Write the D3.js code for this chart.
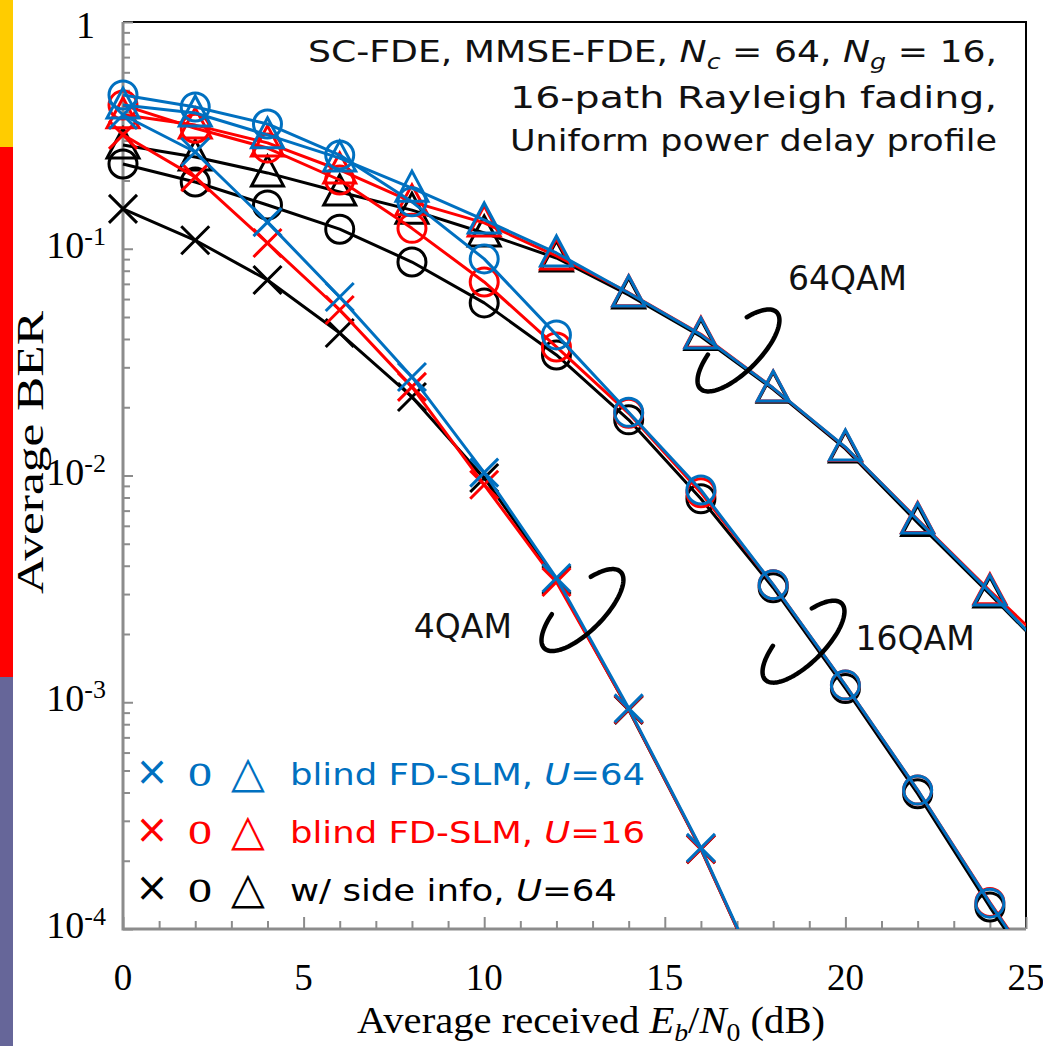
<!DOCTYPE html>
<html>
<head>
<meta charset="utf-8">
<script src="https://cdn.jsdelivr.net/npm/d3@7"></script>
<style>
  html, body { margin: 0; padding: 0; background: #fff; }
  svg { display: block; }
</style>
</head>
<body>
<svg id="chart" width="1043" height="1046"></svg>
<script>
// Average received Eb/N0 (dB) at which BER was evaluated
const ebn0 = [0, 2, 4, 6, 8, 10, 12, 14, 16, 18, 20, 22, 24, 26];

// 4QAM (x markers)
const qam4Blind64 = [0.389, 0.267, 0.131, 0.0613, 0.0272, 0.0103, 0.00353, 0.00094, 0.000228, 0.0000455];
const qam4Blind16 = [0.318, 0.207, 0.106, 0.0537, 0.0246, 0.0091, 0.00339, 0.00093, 0.000225, 0.000045];
const qam4Side64  = [0.150, 0.109, 0.0728, 0.0425, 0.0222, 0.00975, 0.00346, 0.000925, 0.000225, 0.000045];

// 16QAM (o markers)
const qam16Blind64 = [0.477, 0.422, 0.355, 0.259, 0.161, 0.0902, 0.0417, 0.0190, 0.00863, 0.0033, 0.00119, 0.00041, 0.000130, 0.000044];
const qam16Blind16 = [0.43, 0.34, 0.278, 0.201, 0.123, 0.0714, 0.0369, 0.0188, 0.0084, 0.0033, 0.00119, 0.00041, 0.000131, 0.000045];
const qam16Side64  = [0.2365, 0.197, 0.156, 0.122, 0.0874, 0.0577, 0.034, 0.0176, 0.0079, 0.0032, 0.00115, 0.000395, 0.000125, 0.000043];

// 64QAM (triangle markers)
const qam64Blind64 = [0.43, 0.397, 0.318, 0.251, 0.185, 0.134, 0.0958, 0.0638, 0.0417, 0.0243, 0.01335, 0.00636, 0.00306, 0.00142];
const qam64Blind16 = [0.39, 0.351, 0.293, 0.2225, 0.161, 0.130, 0.093, 0.064, 0.042, 0.0243, 0.0133, 0.0064, 0.0031, 0.00155];
const qam64Side64  = [0.287, 0.254, 0.216, 0.178, 0.148, 0.1173, 0.091, 0.0625, 0.041, 0.024, 0.0131, 0.0062, 0.0030, 0.00142];

// Axis ticks
const xMajorTicks = [0, 5, 10, 15, 20, 25];
const yDecades = [1e-4, 1e-3, 1e-2, 1e-1, 1];

// Legend entries
const legendNames = ["blind FD-SLM, ", "blind FD-SLM, ", "w/ side info, "];
const legendU = ["64", "16", "64"];

// Modulation group labels and the loop that ties each curve bundle
const groupLabels = ["4QAM", "16QAM", "64QAM"];
const groupLoopAt = [[12.72, 2.55e-3], [18.84, 1.85e-3], [17.04, 0.0356]];
const groupLabelAt = [[9.41, 0.00192], [21.93, 0.0017], [20.06, 0.0658]];

// ---------------------------------------------------------------
const colors = { u64: "#0070C0", u16: "#FF0000", side: "#000000" };
const serif = "'Liberation Serif', 'Times New Roman', serif";
const sans = "'DejaVu Sans', Verdana, sans-serif";
const axisGray = "#8c8c8c";

const svg = d3.select("#chart");
const frame = { left: 123, top: 22, right: 1026, bottom: 929 };

const x = d3.scaleLinear().domain([0, 25]).range([frame.left, frame.right]);
const y = d3.scaleLog().domain([1e-4, 1]).range([frame.bottom, frame.top]);

// Coloured side strip
const strip = [
  { from: 0, to: 147, color: "#FFCC00" },
  { from: 147, to: 677, color: "#FF0000" },
  { from: 677, to: 1046, color: "#666699" }
];
svg.selectAll("rect.strip").data(strip).join("rect")
  .attr("class", "strip")
  .attr("x", 0).attr("width", 13)
  .attr("y", d => d.from).attr("height", d => d.to - d.from)
  .attr("fill", d => d.color);

// Frame: top and right edges in black
svg.append("path")
  .attr("d", `M${frame.left},${frame.top}H${frame.right}V${frame.bottom}`)
  .attr("fill", "none").attr("stroke", "#000").attr("stroke-width", 2);

// Left axis (log) with inward ticks
const yMinor = y.ticks().filter(v => !yDecades.some(d => Math.abs(v - d) < d * 1e-6));
const yMinorAxis = d3.axisRight(y).tickValues(yMinor).tickSize(7).tickFormat("");
const yMajorAxis = d3.axisRight(y).tickValues(yDecades).tickSize(10).tickFormat("");
[yMinorAxis, yMajorAxis].forEach(ax => {
  const g = svg.append("g").attr("transform", `translate(${frame.left},0)`).call(ax);
  g.select(".domain").remove();
  g.selectAll("line").attr("stroke", axisGray).attr("stroke-width", 2);
});

// Bottom axis with upward ticks
const xMinor = d3.range(1, 25).filter(v => v % 5 !== 0);
const xMinorAxis = d3.axisTop(x).tickValues(xMinor).tickSize(8).tickFormat("");
const xMajorAxis = d3.axisTop(x).tickValues(xMajorTicks).tickSize(12).tickFormat("");
[xMinorAxis, xMajorAxis].forEach(ax => {
  const g = svg.append("g").attr("transform", `translate(0,${frame.bottom})`).call(ax);
  g.select(".domain").remove();
  g.selectAll("line").attr("stroke", axisGray).attr("stroke-width", 2);
});

// Axis lines
svg.append("path")
  .attr("d", `M${frame.left},${frame.top}V${frame.bottom}H${frame.right}`)
  .attr("fill", "none").attr("stroke", axisGray).attr("stroke-width", 3);

// Y tick labels: 1, 10^-1 ... 10^-4
yDecades.forEach(d => {
  const e = Math.round(Math.log10(d));
  if (e === 0) {
    svg.append("text").attr("x", 95).attr("y", y(d) + 16)
      .attr("text-anchor", "end").attr("font-family", serif).attr("font-size", 38)
      .text("1");
  } else {
    const t = svg.append("text").attr("x", 106).attr("y", y(d) + 9)
      .attr("text-anchor", "end").attr("font-family", serif).attr("font-size", 38);
    t.append("tspan").text("10");
    t.append("tspan").attr("font-size", 26).attr("dy", -13).text("-" + Math.abs(e));
  }
});

// X tick labels
svg.selectAll("text.xtick").data(xMajorTicks).join("text")
  .attr("class", "xtick")
  .attr("x", d => x(d)).attr("y", 990)
  .attr("text-anchor", "middle").attr("font-family", serif).attr("font-size", 37)
  .text(d => d);

// Axis titles
const xt = svg.append("text").attr("x", 357).attr("y", 1033)
  .attr("font-family", serif).attr("font-size", 38)
  .attr("textLength", 468).attr("lengthAdjust", "spacingAndGlyphs");
xt.append("tspan").text("Average received ");
xt.append("tspan").attr("font-style", "italic").text("E");
xt.append("tspan").attr("font-style", "italic").attr("font-size", 26).attr("dy", 8).text("b");
xt.append("tspan").attr("dy", -8).text("/");
xt.append("tspan").attr("font-style", "italic").text("N");
xt.append("tspan").attr("font-size", 26).attr("dy", 8).text("0");
xt.append("tspan").attr("dy", -8).text(" (dB)");

svg.append("text")
  .attr("transform", "translate(43,594) rotate(-90)")
  .attr("font-family", serif).attr("font-size", 38)
  .attr("textLength", 283).attr("lengthAdjust", "spacingAndGlyphs")
  .text("Average BER");

// Conditions text (right aligned block)
const cond = svg.append("g").attr("font-family", sans).attr("font-size", 30).attr("fill", "#111");
const c1 = cond.append("text").attr("x", 308).attr("y", 62)
  .attr("textLength", 689).attr("lengthAdjust", "spacingAndGlyphs");
c1.append("tspan").text("SC-FDE, MMSE-FDE, ");
c1.append("tspan").attr("font-style", "italic").text("N");
c1.append("tspan").attr("font-style", "italic").attr("font-size", 21).attr("dy", 7).text("c");
c1.append("tspan").attr("dy", -7).text(" = 64, ");
c1.append("tspan").attr("font-style", "italic").text("N");
c1.append("tspan").attr("font-style", "italic").attr("font-size", 21).attr("dy", 7).text("g");
c1.append("tspan").attr("dy", -7).text(" = 16,");
cond.append("text").attr("x", 510).attr("y", 108)
  .attr("textLength", 487).attr("lengthAdjust", "spacingAndGlyphs")
  .text("16-path Rayleigh fading,");
cond.append("text").attr("x", 510).attr("y", 151)
  .attr("textLength", 487).attr("lengthAdjust", "spacingAndGlyphs")
  .text("Uniform power delay profile");

// Curves
svg.append("clipPath").attr("id", "plotClip")
  .append("rect").attr("x", 0).attr("y", 0).attr("width", frame.right).attr("height", frame.bottom);

const series = [
  { values: qam4Side64, color: colors.side, marker: "x" },
  { values: qam16Side64, color: colors.side, marker: "o" },
  { values: qam64Side64, color: colors.side, marker: "tri" },
  { values: qam4Blind16, color: colors.u16, marker: "x" },
  { values: qam16Blind16, color: colors.u16, marker: "o" },
  { values: qam64Blind16, color: colors.u16, marker: "tri" },
  { values: qam4Blind64, color: colors.u64, marker: "x" },
  { values: qam16Blind64, color: colors.u64, marker: "o" },
  { values: qam64Blind64, color: colors.u64, marker: "tri" }
];

const line = d3.line().x(d => x(d[0])).y(d => y(d[1]));
const plotG = svg.append("g").attr("clip-path", "url(#plotClip)");

const markerPath = {
  x: "M-14,-14L14,14M-14,14L14,-14",
  tri: "M0,-17L16,13L-16,13Z"
};

series.forEach(s => {
  const pts = s.values.map((v, i) => [ebn0[i], v]);
  const g = plotG.append("g");
  g.append("path").datum(pts).attr("d", line)
    .attr("fill", "none").attr("stroke", s.color).attr("stroke-width", 3)
    .attr("stroke-linejoin", "round");
  pts.forEach(p => {
    if (s.marker === "o") {
      g.append("circle").attr("cx", x(p[0])).attr("cy", y(p[1])).attr("r", 14)
        .attr("fill", "none").attr("stroke", s.color).attr("stroke-width", 3);
    } else {
      g.append("path").attr("d", markerPath[s.marker])
        .attr("transform", `translate(${x(p[0])},${y(p[1])})`)
        .attr("fill", "none").attr("stroke", s.color).attr("stroke-width", 3)
        .attr("stroke-linejoin", "miter");
    }
  });
});

// Group loops: tilted ellipse with a gap on its upper-left side
const loopA = 54, loopB = 21, loopTilt = -Math.PI / 4;
const tStart = -57 * Math.PI / 180, tEnd = 243 * Math.PI / 180;
groupLoopAt.forEach(c => {
  const cx = x(c[0]), cy = y(c[1]);
  const pts = d3.range(0, 121).map(i => {
    const t = tStart + (tEnd - tStart) * i / 120;
    const ex = loopA * Math.cos(t), ey = loopB * Math.sin(t);
    return [cx + ex * Math.cos(loopTilt) - ey * Math.sin(loopTilt),
            cy + ex * Math.sin(loopTilt) + ey * Math.cos(loopTilt)];
  });
  svg.append("path").attr("d", d3.line()(pts))
    .attr("fill", "none").attr("stroke", "#000").attr("stroke-width", 4.5)
    .attr("stroke-linecap", "round");
});

svg.selectAll("text.group").data(groupLabels).join("text")
  .attr("class", "group")
  .attr("x", (d, i) => x(groupLabelAt[i][0]))
  .attr("y", (d, i) => y(groupLabelAt[i][1]))
  .attr("text-anchor", "middle").attr("font-family", sans).attr("font-size", 33)
  .attr("fill", "#111")
  .text(d => d);

// Legend
const legendColors = [colors.u64, colors.u16, colors.side];
const legendBase = [785, 843, 901];
const legendWidth = [355, 355, 327];
legendColors.forEach((col, i) => {
  const by = legendBase[i];
  svg.append("text").attr("x", 152).attr("y", by).attr("text-anchor", "middle")
    .attr("font-family", sans).attr("font-size", 40).attr("fill", col).text("×");
  svg.append("text").attr("x", 200).attr("y", by + 1).attr("text-anchor", "middle")
    .attr("font-family", serif).attr("font-size", 48).attr("fill", col).text("o");
  svg.append("text").attr("x", 248).attr("y", by + 2).attr("text-anchor", "middle")
    .attr("font-family", sans).attr("font-size", 44).attr("fill", col).text("△");
  const t = svg.append("text").attr("x", 290).attr("y", by)
    .attr("font-family", sans).attr("font-size", 30).attr("fill", col)
    .attr("textLength", legendWidth[i]).attr("lengthAdjust", "spacingAndGlyphs");
  t.append("tspan").text(legendNames[i]);
  t.append("tspan").attr("font-style", "italic").text("U");
  t.append("tspan").text("=" + legendU[i]);
});
</script>
</body>
</html>
